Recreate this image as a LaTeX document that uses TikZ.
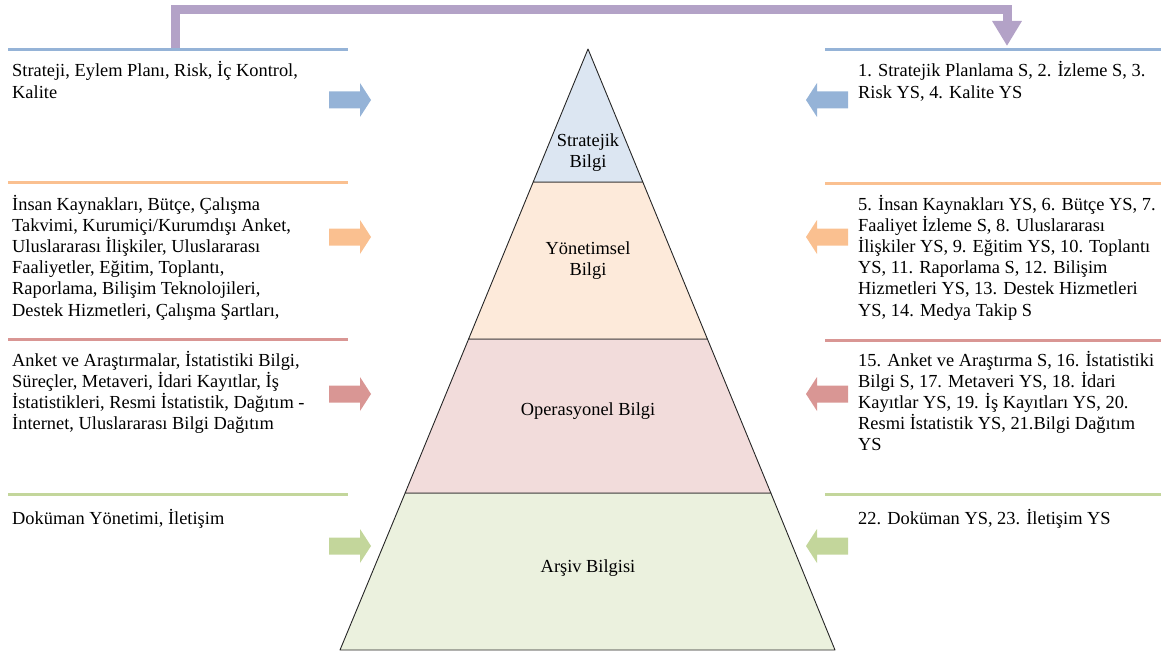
\documentclass[tikz,border=0pt]{standalone}
\usepackage{fontspec}
\setmainfont{Liberation Serif}
\usetikzlibrary{arrows.meta}
\definecolor{blueL}{HTML}{95B3D7}
\definecolor{orangeL}{HTML}{FAC090}
\definecolor{redL}{HTML}{D99694}
\definecolor{greenL}{HTML}{C3D69B}
\definecolor{purpleL}{HTML}{B3A2C7}
\definecolor{blueF}{HTML}{DCE6F2}
\definecolor{orangeF}{HTML}{FDEADA}
\definecolor{redF}{HTML}{F2DCDB}
\definecolor{greenF}{HTML}{EBF1DE}
\newcommand\myRarrow[2]{\fill[#1] (329,#2-8.5) -- (360,#2-8.5) -- (360,#2-17) -- (371,#2) -- (360,#2+17) -- (360,#2+8.5) -- (329,#2+8.5) -- cycle;}
\newcommand\myLarrow[2]{\fill[#1] (848,#2-8.5) -- (817,#2-8.5) -- (817,#2-17) -- (806,#2) -- (817,#2+17) -- (817,#2+8.5) -- (848,#2+8.5) -- cycle;}
\begin{document}
\begin{tikzpicture}[x=1pt,y=-1pt,
  txt/.style={font=\fontsize{18.4}{21.2}\selectfont, align=left, inner sep=0pt, anchor=base west},
  lbl/.style={font=\fontsize{18.4}{21.2}\selectfont, align=center, inner sep=0pt, anchor=base},
  rule/.style={line width=3pt},
  layer/.style={draw=black!85, line width=0.9pt, line join=round}]
\useasboundingbox (0,0) rectangle (1161,655);
% pyramid layers
\filldraw[layer, fill=greenF] (405.15,493) -- (770.85,493) -- (835,650) -- (340,650) -- cycle;
\filldraw[layer, fill=redF] (468.6,339) -- (707.4,339) -- (770.85,493) -- (405.15,493) -- cycle;
\filldraw[layer, fill=orangeF] (533.2,182) -- (642.8,182) -- (707.4,339) -- (468.6,339) -- cycle;
\filldraw[layer, fill=blueF] (588,49) -- (642.8,182) -- (533.2,182) -- cycle;
% pyramid labels (anchor at last line's baseline)
\node[lbl] (p1) at (588,167.5) {Stratejik\\Bilgi};
\node[lbl] (p2) at (588,275.5) {Yönetimsel\\Bilgi};
\node[lbl] (p3) at (588,415) {Operasyonel Bilgi};
\node[lbl] (p4) at (588,572) {Arşiv Bilgisi};
% horizontal rules
\draw[rule, blueL] (8,50) -- (348,50);
\draw[rule, blueL] (825,50) -- (1161,50);
\draw[rule, orangeL] (8,183) -- (348,183);
\draw[rule, orangeL] (825,184) -- (1161,184);
\draw[rule, redL] (8,339) -- (348,339);
\draw[rule, redL] (825,340) -- (1161,340);
\draw[rule, greenL] (8,494) -- (348,494);
\draw[rule, greenL] (825,494) -- (1161,494);
% purple connector
\coordinate (pstart) at (175,48.5);
\coordinate (pend) at (1007,46);
\draw[purpleL, line width=9pt, line join=miter, -{Triangle[width=28pt,length=25pt]}] (pstart) |- (1007,10) -- (pend);
% block arrows
\myRarrow{blueL}{100}
\myRarrow{orangeL}{237}
\myRarrow{redL}{394}
\myRarrow{greenL}{546}
\myLarrow{blueL}{100}
\myLarrow{orangeL}{237}
\myLarrow{redL}{394}
\myLarrow{greenL}{546}
% left texts (anchor at last line's baseline)
\node[txt] (l1) at (12,98.2) {Strateji, Eylem Planı, Risk, İç Kontrol,\\Kalite};
\node[txt] (l2) at (12,316) {İnsan Kaynakları, Bütçe, Çalışma\\Takvimi, Kurumiçi/Kurumdışı Anket,\\Uluslararası İlişkiler, Uluslararası\\Faaliyetler, Eğitim, Toplantı,\\Raporlama, Bilişim Teknolojileri,\\Destek Hizmetleri, Çalışma Şartları,};
\node[txt] (l3) at (12,429.6) {Anket ve Araştırmalar, İstatistiki Bilgi,\\Süreçler, Metaveri, İdari Kayıtlar, İş\\İstatistikleri, Resmi İstatistik, Dağıtım -\\İnternet, Uluslararası Bilgi Dağıtım};
\node[txt] (l4) at (12,524) {Doküman Yönetimi, İletişim};
% right texts
\node[txt] (r1) at (858,98.2) {1. Stratejik Planlama S, 2. İzleme S, 3.\\Risk YS, 4. Kalite YS};
\node[txt] (r2) at (858,316) {5. İnsan Kaynakları YS, 6. Bütçe YS, 7.\\Faaliyet İzleme S, 8. Uluslararası\\İlişkiler YS, 9. Eğitim YS, 10. Toplantı\\YS, 11. Raporlama S, 12. Bilişim\\Hizmetleri YS, 13. Destek Hizmetleri\\YS, 14. Medya Takip S};
\node[txt] (r3) at (858,450.8) {15. Anket ve Araştırma S, 16. İstatistiki\\Bilgi S, 17. Metaveri YS, 18. İdari\\Kayıtlar YS, 19. İş Kayıtları YS, 20.\\Resmi İstatistik YS, 21.Bilgi Dağıtım\\YS};
\node[txt] (r4) at (858,524) {22. Doküman YS, 23. İletişim YS};
\end{tikzpicture}
\end{document}
